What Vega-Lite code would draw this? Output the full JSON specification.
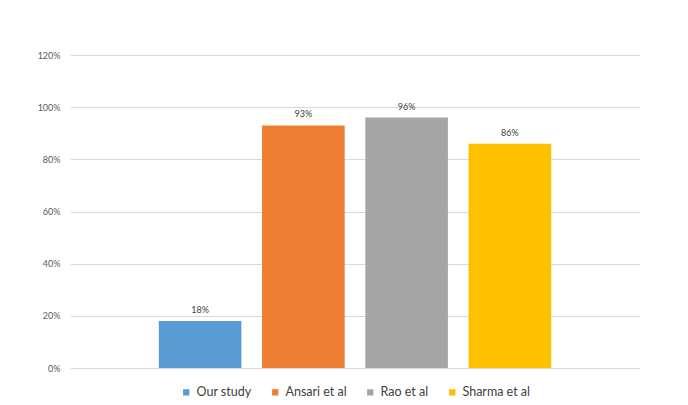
{
  "$schema": "https://vega.github.io/schema/vega-lite/v6.json",
  "width": 570,
  "height": 313,
  "autosize": {"type": "none"},
  "padding": {"left": 70, "top": 55, "right": 48, "bottom": 37},
  "background": "white",
  "config": {
    "view": {"stroke": null},
    "font": "Lato",
    "axis": {"labelFont": "Lato", "labelColor": "#595959"},
    "legend": {
      "labelFont": "Lato",
      "labelColor": "#404040",
      "layout": {"bottom": {"anchor": "middle"}}
    }
  },
  "data": {
    "values": [
      {"study": "Our study", "pct": 0.18},
      {"study": "Ansari et al", "pct": 0.93},
      {"study": "Rao et al", "pct": 0.96},
      {"study": "Sharma et al", "pct": 0.86}
    ]
  },
  "encoding": {
    "x": {
      "field": "study",
      "type": "nominal",
      "sort": ["Our study", "Ansari et al", "Rao et al", "Sharma et al"],
      "scale": {"paddingInner": 0.2, "paddingOuter": 0.86},
      "axis": null
    },
    "y": {
      "field": "pct",
      "type": "quantitative",
      "scale": {"domain": [0, 1.2], "nice": false},
      "axis": {
        "values": [0, 0.2, 0.4, 0.6, 0.8, 1.0, 1.2],
        "format": ".0%",
        "title": null,
        "domain": false,
        "ticks": false,
        "labelFontSize": 9,
        "labelPadding": 10,
        "gridColor": "#D9D9D9",
        "gridWidth": 1
      }
    }
  },
  "layer": [
    {
      "mark": {"type": "bar"},
      "encoding": {
        "color": {
          "field": "study",
          "type": "nominal",
          "sort": ["Our study", "Ansari et al", "Rao et al", "Sharma et al"],
          "scale": {
            "domain": ["Our study", "Ansari et al", "Rao et al", "Sharma et al"],
            "range": ["#5B9BD5", "#ED7D31", "#A5A5A5", "#FFC000"]
          },
          "legend": {
            "title": null,
            "orient": "bottom",
            "direction": "horizontal",
            "symbolType": "square",
            "symbolSize": 40,
            "symbolStrokeWidth": 0,
            "labelFontSize": 12.5,
            "labelOffset": 4,
            "columnPadding": 17,
            "offset": 18
          }
        }
      }
    },
    {
      "mark": {"type": "text", "baseline": "bottom", "dy": -6, "fontSize": 9, "color": "#404040"},
      "encoding": {
        "text": {"field": "pct", "type": "quantitative", "format": ".0%"}
      }
    }
  ]
}
